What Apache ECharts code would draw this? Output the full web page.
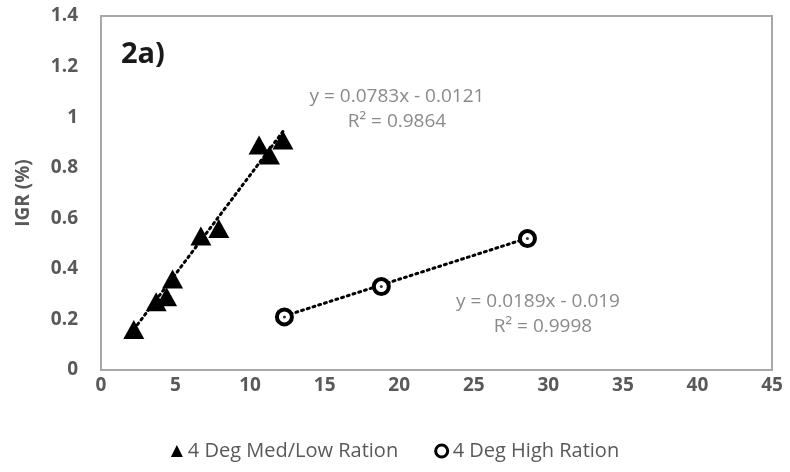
<!DOCTYPE html>
<html><head><meta charset="utf-8">
<script src="https://cdn.jsdelivr.net/npm/echarts@6/dist/echarts.min.js"></script>
<style>html,body{margin:0;padding:0;background:#fff}#c{width:790px;height:472px}</style>
</head><body><div id="c"></div>
<script>
const medLowX = [2.2, 3.7, 4.4, 4.8, 6.7, 7.9, 10.6, 11.3, 12.2];
const medLowY = [0.16, 0.27, 0.29, 0.36, 0.53, 0.56, 0.89, 0.85, 0.91];
const highX = [12.3, 18.8, 28.6];
const highY = [0.21, 0.33, 0.52];
const trendMedLow = [0.0783, -0.0121];
const trendHigh = [0.0189, -0.019];
const seriesNames = ['4 Deg Med/Low Ration', '4 Deg High Ration'];
const eq1 = ['y = 0.0783x - 0.0121', 'R² = 0.9864'];
const eq2 = ['y = 0.0189x - 0.019', 'R² = 0.9998'];

function pairs(xs, ys){ return xs.map((x,i)=>[x, ys[i]]); }
function trend(xs, c){ const a=Math.min(...xs), b=Math.max(...xs); return [[a, c[0]*a+c[1]],[b, c[0]*b+c[1]]]; }

const chart = echarts.init(document.getElementById('c'));
const font = '"Open Sans", Lato, sans-serif';
chart.setOption({
  animation:false,
  grid:{left:101, top:16, right:18, bottom:102, show:true, borderColor:'#a8a8a8', borderWidth:2, backgroundColor:'#fff'},
  xAxis:{type:'value', min:0, max:45, interval:5, axisLine:{show:false}, axisTick:{show:false}, splitLine:{show:false},
    axisLabel:{color:'#595959', fontSize:19, fontWeight:'bold', fontFamily:font, margin:6}},
  yAxis:{type:'value', min:0, max:1.4, interval:0.2, axisLine:{show:false}, axisTick:{show:false}, splitLine:{show:false},
    name:'IGR (%)', nameLocation:'middle', nameGap:68, nameTextStyle:{color:'#595959', fontSize:19, fontWeight:'bold', fontFamily:font},
    axisLabel:{color:'#595959', fontSize:19, fontWeight:'bold', fontFamily:font, margin:23, formatter:v=>String(+v.toFixed(1))}},
  legend:{bottom:6, left:'center', itemGap:36, itemWidth:12, itemHeight:12,
    textStyle:{color:'#595959', fontSize:20, fontFamily:font},
    data:[{name:seriesNames[0], icon:'triangle', itemStyle:{color:'#000'}},
          {name:seriesNames[1], icon:'circle', itemStyle:{color:'#fff', borderColor:'#000', borderWidth:3}}]},
  series:[
    {type:'line', data:trend(medLowX, trendMedLow), showSymbol:false, symbol:'none', lineStyle:{color:'#000', width:3, type:[2,4], cap:'round'}, z:1, silent:true},
    {type:'line', data:trend(highX, trendHigh), showSymbol:false, symbol:'none', lineStyle:{color:'#000', width:3, type:[2,4], cap:'round'}, z:1, silent:true},
    {name:seriesNames[0], type:'scatter', data:pairs(medLowX, medLowY), symbol:'triangle', symbolSize:[21,19], itemStyle:{color:'#000', opacity:1}, z:3},
    {name:seriesNames[1], type:'scatter', data:pairs(highX, highY), symbol:'circle', symbolSize:15, itemStyle:{color:'#fff', borderColor:'#000', borderWidth:4, opacity:1}, z:3},
    {type:'scatter', data:pairs(highX, highY), symbol:'circle', symbolSize:3, itemStyle:{color:'#000'}, z:4, silent:true}
  ],
  graphic:[
    {type:'text', left:121, top:40, style:{text:'2a)', font:'bold 29px '+font, fill:'#1a1a1a'}},
    {type:'text', x:397, y:97, style:{text:eq1[0], font:'19px '+font, fill:'#8a8a8a', align:'center', verticalAlign:'middle'}},
    {type:'text', x:397, y:122, style:{text:eq1[1], font:'19px '+font, fill:'#8a8a8a', align:'center', verticalAlign:'middle'}},
    {type:'text', x:538, y:302, style:{text:eq2[0], font:'19px '+font, fill:'#8a8a8a', align:'center', verticalAlign:'middle'}},
    {type:'text', x:543, y:327, style:{text:eq2[1], font:'19px '+font, fill:'#8a8a8a', align:'center', verticalAlign:'middle'}}
  ]
});
</script></body></html>
